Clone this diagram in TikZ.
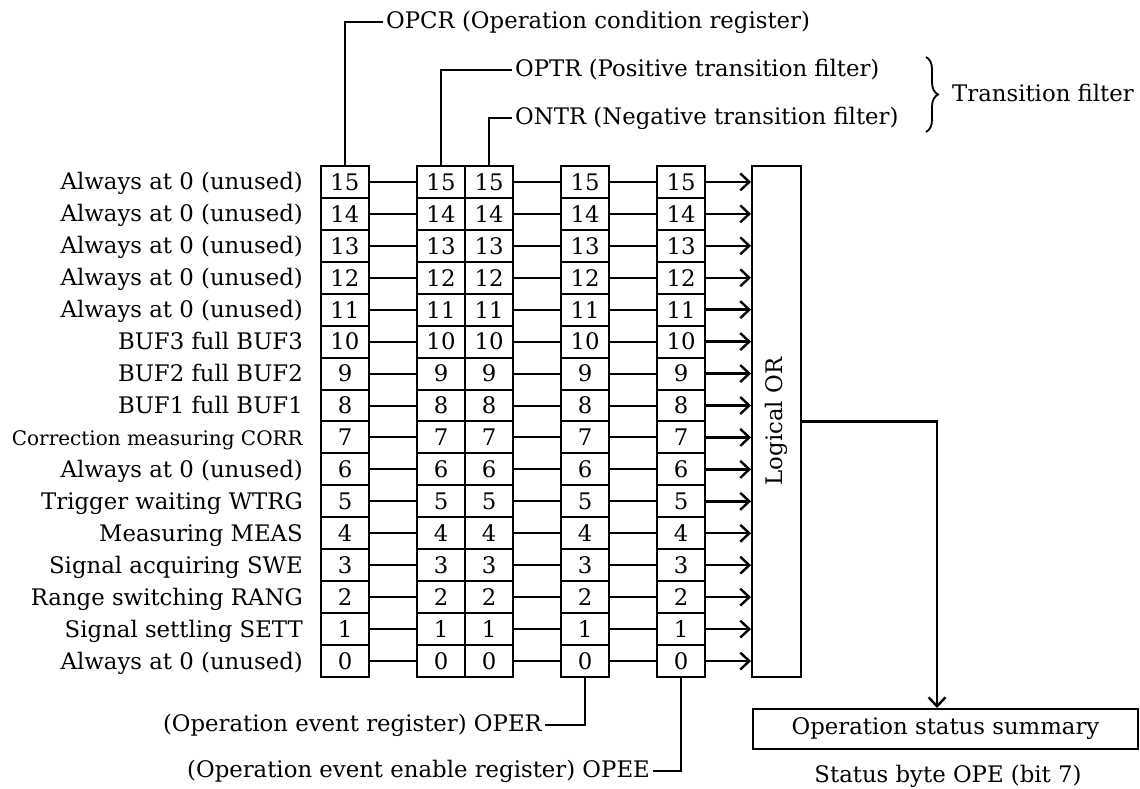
\documentclass[tikz,border=0pt]{standalone}
\usepackage{fontspec}
\setmainfont{DejaVu Serif}
\usetikzlibrary{arrows.meta,decorations.pathreplacing}
\newcommand{\bigfont}{\fontsize{22.8}{27}\selectfont}
\newcommand{\midfont}{\fontsize{20}{24}\selectfont}
\tikzset{
  cell/.style={draw, line width=2pt, minimum width=48pt, minimum height=31.94pt, inner sep=0pt, font=\bigfont},
  lbl/.style={inner sep=0pt, font=\bigfont},
  wire/.style={line width=2pt},
  arr/.style={line width=2.4pt, -{Straight Barb[length=9pt,width=17pt,line width=2.4pt]}},
  box/.style={draw, line width=2pt, inner sep=0pt, font=\bigfont},
}
\begin{document}
\begin{tikzpicture}[x=1pt,y=-1pt]
\useasboundingbox (0,0) rectangle (1140,789);
% register cells
\foreach \i in {0,...,15}{
  \pgfmathsetmacro\yy{677-(\i+0.5)*31.94}
  \node[cell] (A\i) at (345,\yy) {\i};
  \node[cell] (B\i) at (441,\yy) {\i};
  \node[cell] (C\i) at (489,\yy) {\i};
  \node[cell] (D\i) at (585,\yy) {\i};
  \node[cell] (E\i) at (681,\yy) {\i};
}
% logical OR
\node[box, minimum width=49pt, minimum height=511pt] (OR) at (776.5,421.5) {\rotatebox{90}{Logical OR}};
% connectors
\foreach \i in {0,...,15}{
  \draw[wire] (A\i.east) -- (B\i.west);
  \draw[wire] (C\i.east) -- (D\i.west);
  \draw[wire] (D\i.east) -- (E\i.west);
  \draw[arr] (E\i.east) -- (E\i.east -| OR.west);
}
% left labels
\foreach \i/\t in {15/Always at 0 (unused), 14/Always at 0 (unused), 13/Always at 0 (unused),
  12/Always at 0 (unused), 11/Always at 0 (unused), 10/BUF3 full BUF3, 9/BUF2 full BUF2,
  8/BUF1 full BUF1, 7/{\midfont Correction measuring CORR}, 6/Always at 0 (unused),
  5/Trigger waiting WTRG, 4/Measuring MEAS, 3/Signal acquiring SWE, 2/Range switching RANG,
  1/Signal settling SETT, 0/Always at 0 (unused)}{
  \pgfmathsetmacro\yb{677-(\i+0.5)*31.94+8}
  \node[lbl, anchor=base east] (L\i) at (303,\yb) {\t};
}
% top labels
\node[lbl, anchor=west, inner xsep=3pt] (opcr) at (383,22) {OPCR (Operation condition register)};
\node[lbl, anchor=west, inner xsep=3pt] (optr) at (512,70) {OPTR (Positive transition filter)};
\node[lbl, anchor=west, inner xsep=3pt] (ontr) at (512,118) {ONTR (Negative transition filter)};
\draw[wire] (A15.north) |- (opcr.west);
\draw[wire] (B15.north) |- (optr.west);
\draw[wire] (C15.north) |- (ontr.west);
\coordinate (brT) at (926,57);
\coordinate (brB) at (926,132);
\draw[line width=1.8pt, decorate, decoration={brace, amplitude=12pt}] (brT) -- (brB);
\node[lbl, anchor=west] (tf) at (952,93) {Transition filter};
% bottom labels
\node[lbl, anchor=east, inner xsep=3pt] (oper) at (545,725) {(Operation event register) OPER};
\node[lbl, anchor=east, inner xsep=3pt] (opee) at (653,771) {(Operation event enable register) OPEE};
\draw[wire] (D0.south) |- (oper.east);
\draw[wire] (E0.south) |- (opee.east);
% summary
\node[box, minimum width=385pt, minimum height=40pt] (sum) at (945.5,729) {Operation status summary};
\coordinate (turn) at (937,421.5);
\draw[arr] (OR.east) -- (turn) -- (turn |- sum.north);
\node[lbl] (stat) at (948,776) {Status byte OPE (bit 7)};
\end{tikzpicture}
\end{document}
